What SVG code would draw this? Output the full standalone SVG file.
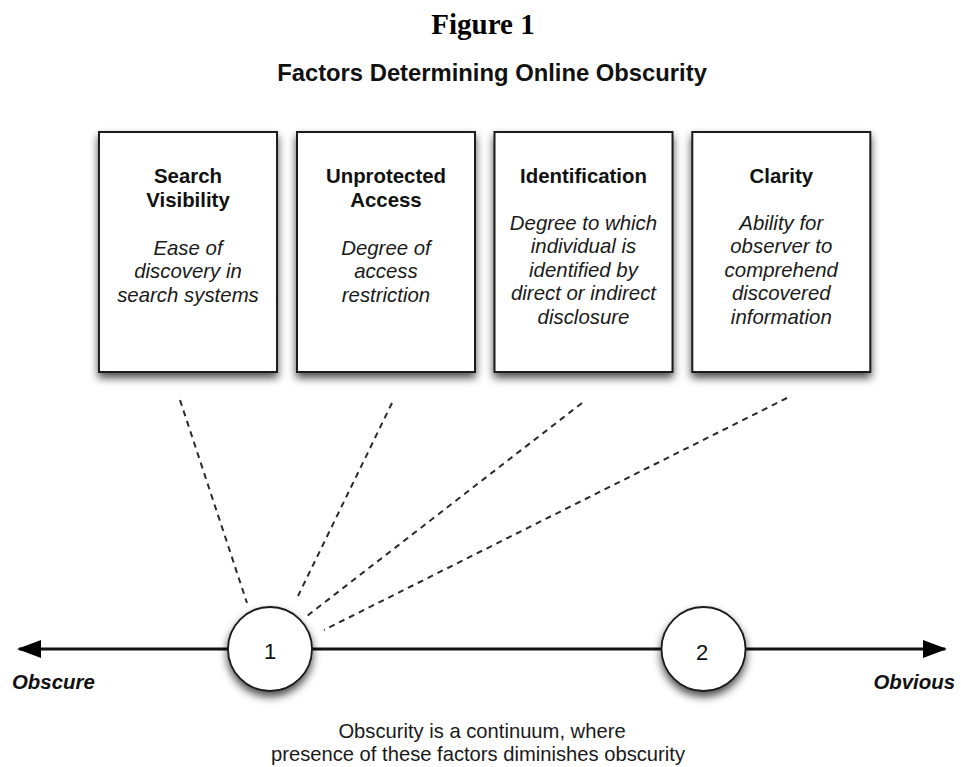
<svg xmlns="http://www.w3.org/2000/svg" width="961" height="767" viewBox="0 0 961 767">
<defs>
<filter id="sh" x="-20%" y="-20%" width="140%" height="140%">
<feDropShadow dx="0" dy="5" stdDeviation="4" flood-color="#000" flood-opacity="0.7"/>
</filter>
<marker id="arr" viewBox="0 0 24 18" refX="22" refY="9" markerWidth="24" markerHeight="18" markerUnits="userSpaceOnUse" orient="auto-start-reverse">
<path d="M0,0 L24,9 L0,18 Z" fill="#000"/>
</marker>
<style>
.box{fill:#fff;stroke:#1a1a1a;stroke-width:2;filter:url(#sh)}
.circ{fill:#fff;stroke:#1a1a1a;stroke-width:1.8;filter:url(#sh)}
.t{font-family:"Liberation Sans",Arial,sans-serif;font-size:20.4px;fill:#111;text-anchor:middle;font-weight:bold}
.d{font-family:"Liberation Sans",Arial,sans-serif;font-size:20.4px;fill:#1a1a1a;text-anchor:middle;font-style:italic}
.dash{stroke:#2a2a2a;stroke-width:2;stroke-dasharray:6 5;fill:none}
.num{font-family:"Liberation Sans",Arial,sans-serif;font-size:22px;fill:#111;text-anchor:middle}
.end{font-family:"Liberation Sans",Arial,sans-serif;font-size:20.4px;fill:#111;font-weight:bold;font-style:italic}
.cap{font-family:"Liberation Sans",Arial,sans-serif;font-size:20.2px;fill:#1a1a1a;text-anchor:middle}
</style>
</defs>
<rect width="961" height="767" fill="#fff"/>
<text x="483" y="34" font-family="Liberation Serif,'Times New Roman',serif" font-size="29" font-weight="bold" text-anchor="middle" fill="#000">Figure 1</text>
<text x="492" y="81" font-family="Liberation Sans,Arial,sans-serif" font-size="23.8" font-weight="bold" text-anchor="middle" fill="#111">Factors Determining Online Obscurity</text>

<g id="connectors">
<line class="dash" x1="180" y1="400" x2="247" y2="603"/>
<line class="dash" x1="392" y1="403" x2="298" y2="596"/>
<line class="dash" x1="582" y1="403" x2="307" y2="616"/>
<line class="dash" x1="787" y1="398" x2="324" y2="630"/>
<line x1="311" y1="649" x2="662" y2="649" stroke="#111" stroke-width="3"/>
<line x1="228" y1="649" x2="19" y2="649" stroke="#111" stroke-width="3" marker-end="url(#arr)"/>
<line x1="745" y1="649" x2="945" y2="649" stroke="#111" stroke-width="3" marker-end="url(#arr)"/>
</g>

<g id="search-visibility">
<rect class="box" x="99" y="132" width="178" height="240"/>
<text class="t" x="188" y="183">Search</text>
<text class="t" x="188" y="207">Visibility</text>
<text class="d" x="188" y="255">Ease of</text>
<text class="d" x="188" y="278.4">discovery in</text>
<text class="d" x="188" y="301.8">search systems</text>
</g>

<g id="unprotected-access">
<rect class="box" x="297" y="132" width="178" height="240"/>
<text class="t" x="386" y="183">Unprotected</text>
<text class="t" x="386" y="207">Access</text>
<text class="d" x="386" y="255">Degree of</text>
<text class="d" x="386" y="278.4">access</text>
<text class="d" x="386" y="301.8">restriction</text>
</g>

<g id="identification">
<rect class="box" x="494.5" y="132" width="178" height="240"/>
<text class="t" x="583.5" y="183">Identification</text>
<text class="d" x="583.5" y="230">Degree to which</text>
<text class="d" x="583.5" y="253.4">individual is</text>
<text class="d" x="583.5" y="276.8">identified by</text>
<text class="d" x="583.5" y="300.2">direct or indirect</text>
<text class="d" x="583.5" y="323.6">disclosure</text>
</g>

<g id="clarity">
<rect class="box" x="692.3" y="132" width="178" height="240"/>
<text class="t" x="781.3" y="183">Clarity</text>
<text class="d" x="781.3" y="230">Ability for</text>
<text class="d" x="781.3" y="253.4">observer to</text>
<text class="d" x="781.3" y="276.8">comprehend</text>
<text class="d" x="781.3" y="300.2">discovered</text>
<text class="d" x="781.3" y="323.6">information</text>
</g>

<g id="point-1">
<circle class="circ" cx="270" cy="649" r="42"/>
<text class="num" x="270" y="659">1</text>
</g>

<g id="point-2">
<circle class="circ" cx="703.5" cy="649" r="42"/>
<text class="num" x="702" y="660">2</text>
</g>

<g id="labels">
<text class="end" x="12" y="689">Obscure</text>
<text class="end" x="955" y="689" text-anchor="end">Obvious</text>
<text class="cap" x="482" y="738">Obscurity is a continuum, where</text>
<text class="cap" x="478" y="761">presence of these factors diminishes obscurity</text>
</g>
</svg>
